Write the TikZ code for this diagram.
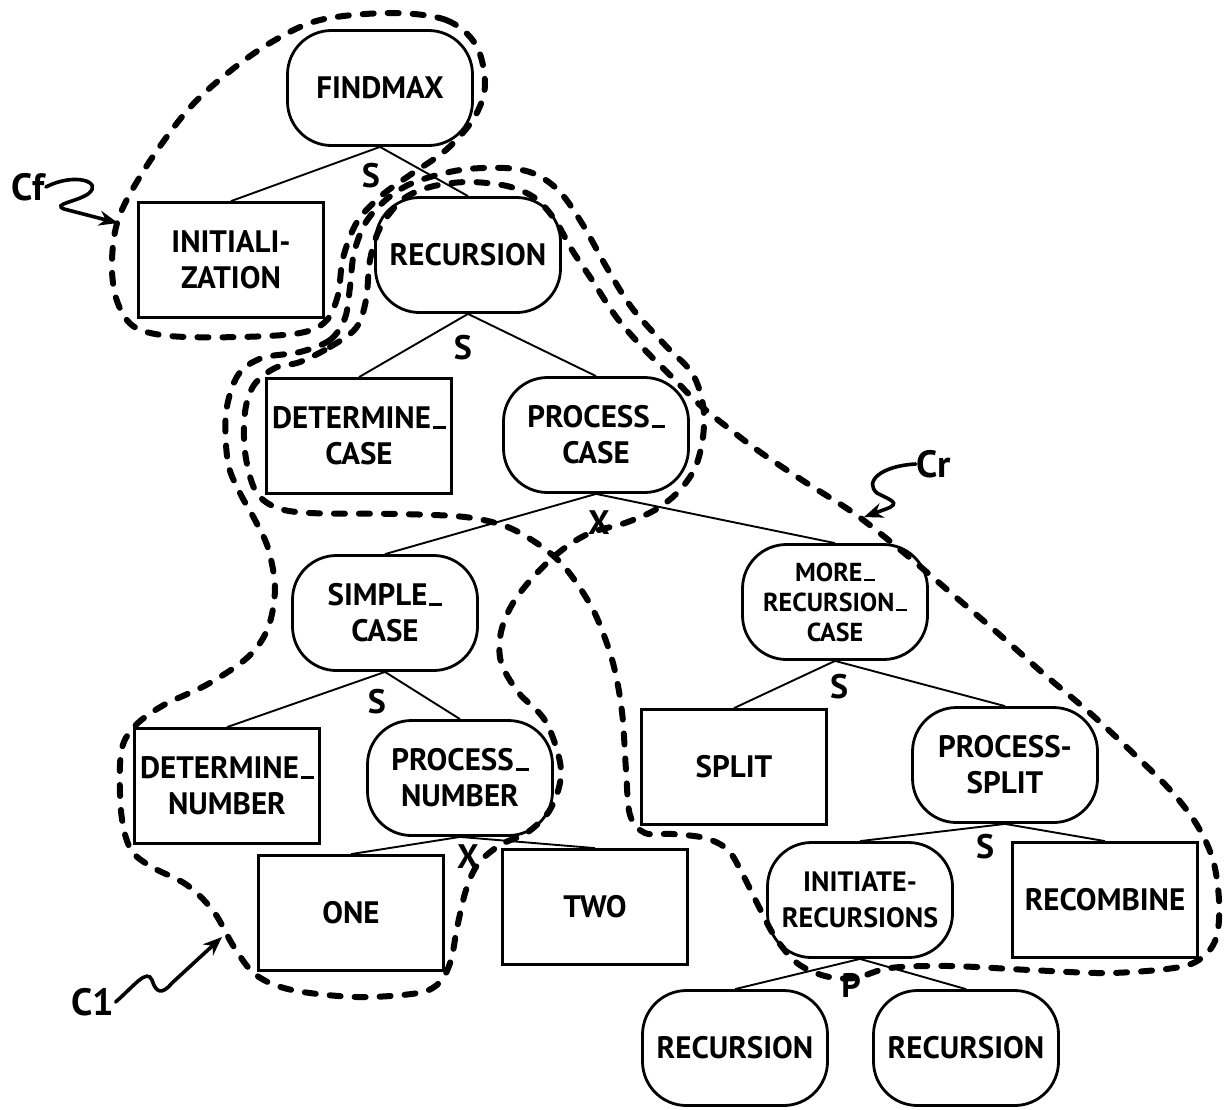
\documentclass[tikz,border=0pt]{standalone}
\usepackage{fontspec}
\setmainfont{PT Sans}
\usetikzlibrary{arrows.meta}
% short dash sitting on the baseline, used to join compound names
\newcommand\lowdash{\kern0.06em\rule{0.42em}{0.09em}}
\begin{document}
\begin{tikzpicture}[x=1pt,y=-1pt,
  box/.style={draw, line width=2.8pt, minimum width=185pt, minimum height=115pt,
              align=center, inner sep=0pt, font=\bfseries\fontsize{31}{36}\selectfont},
  pill/.style={box, rounded corners=44pt},
  edge/.style={line width=1.9pt},
  opmark/.style={font=\bfseries\fontsize{34}{34}\selectfont, inner sep=1pt},
  tag/.style={font=\bfseries\fontsize{38}{38}\selectfont, inner sep=1pt},
  fence/.style={line width=6pt, dash pattern=on 11pt off 14pt, line cap=round},
  pointer/.style={line width=3.6pt, line cap=round, -{Stealth[length=19pt,width=15pt]}}]
\useasboundingbox (0,0) rectangle (1225,1109);

% ---------- cluster boundaries ----------
% Cf : FINDMAX with its initialization
\draw[fence] plot[smooth cycle, tension=0.55] coordinates {
  (391,13) (446,20) (476,45) (485,85) (474,118) (446,150) (410,175) (381,196)
  (357,222) (343,258) (338,295) (326,321) (300,333) (240,337) (170,336)
  (133,326) (116,298) (112,260) (119,217) (146,167) (186,112) (224,76)
  (270,43) (320,20)};

% C1 : the simple case
\draw[fence] plot[smooth cycle, tension=0.55] coordinates {
  (300,352) (330,340) (345,318) (350,287) (354,253) (366,222) (388,198)
  (415,182) (460,170) (505,168) (535,174) (560,192) (583,225) (607,268)
  (632,308) (665,345) (692,373) (703,405) (703,437) (695,468) (678,492)
  (655,510) (625,523) (590,533) (562,550) (535,575) (513,603) (501,632)
  (501,662) (518,692) (546,722) (561,770) (551,808) (528,832) (500,845)
  (478,864) (466,890) (457,928) (451,960) (440,982) (418,993) (357,997)
  (292,990) (256,975) (234,947) (214,912) (187,885) (150,866) (130,848)
  (121,811) (121,753) (134,727) (162,706) (208,684) (248,657) (268,628)
  (275,588) (268,548) (255,520) (240,493) (228,463) (226,413) (238,375)
  (262,358)};

% Cr : the recursive case
\draw[fence] plot[smooth cycle, tension=0.55] coordinates {
  (300,362) (330,347) (356,328) (366,300) (370,260) (380,228) (402,200)
  (430,187) (467,182) (507,186) (535,198) (555,220) (572,250) (592,280)
  (617,318) (645,350) (672,377) (700,405) (727,427) (760,452) (805,482)
  (855,514) (903,552) (951,593) (1000,635) (1045,675) (1090,713) (1135,755)
  (1172,792) (1197,825) (1213,860) (1219,900) (1217,935) (1205,955)
  (1180,967) (1110,973) (1030,970) (950,966) (890,968) (855,978) (825,976)
  (797,963) (775,937) (758,905) (743,875) (728,850) (705,838) (672,834)
  (645,833) (630,815) (626,770) (622,712) (613,663) (597,618) (580,588)
  (560,562) (535,542) (505,526) (465,517) (400,514) (310,513) (275,507)
  (255,490) (245,452) (245,412) (254,385) (275,368)};

% ---------- tree nodes ----------
\node[pill] (findmax)   at (380,88)   {FINDMAX};
\node[box]  (init)      at (231,260)  {INITIALI-\\ZATION};
\node[pill] (rec)       at (468,255)  {RECURSION};
\node[box]  (detcase)   at (359,436)  {DETERMINE\lowdash\\CASE};
\node[pill] (proccase)  at (596,435)  {PROCESS\lowdash\\CASE};
\node[pill] (simple)    at (385,613)  {SIMPLE\lowdash\\CASE};
\node[pill, font=\bfseries\fontsize{26}{30}\selectfont]
            (more)      at (835,602)  {MORE\lowdash\\RECURSION\lowdash\\CASE};
\node[box]  (detnum)    at (227,786)  {DETERMINE\lowdash\\NUMBER};
\node[pill] (procnum)   at (460,778)  {PROCESS\lowdash\\NUMBER};
\node[box]  (split)     at (734,767)  {SPLIT};
\node[pill] (procsplit) at (1005,765) {PROCESS-\\SPLIT};
\node[box]  (one)       at (351,913)  {ONE};
\node[box]  (two)       at (595,907)  {TWO};
\node[pill, font=\bfseries\fontsize{28}{36}\selectfont]
            (initiate)  at (860,900)  {INITIATE-\\RECURSIONS};
\node[box]  (recombine) at (1105,900) {RECOMBINE};
\node[pill] (recl)      at (735,1048) {RECURSION};
\node[pill] (recr)      at (966,1048) {RECURSION};

% ---------- tree edges ----------
\draw[edge] (findmax.south) -- (init.north);
\draw[edge] (findmax.south) -- (rec.north);
\draw[edge] (rec.south) -- (detcase.north);
\draw[edge] (rec.south) -- (proccase.north);
\draw[edge] (proccase.south) -- (simple.north);
\draw[edge] (proccase.south) -- (more.north);
\draw[edge] (simple.south) -- (detnum.north);
\draw[edge] (simple.south) -- (procnum.north);
\draw[edge] (procnum.south) -- (one.north);
\draw[edge] (procnum.south) -- (two.north);
\draw[edge] (more.south) -- (split.north);
\draw[edge] (more.south) -- (procsplit.north);
\draw[edge] (procsplit.south) -- (initiate.north);
\draw[edge] (procsplit.south) -- (recombine.north);
\draw[edge] (initiate.south) -- (recl.north);
\draw[edge] (initiate.south) -- (recr.north);

% ---------- composition operators ----------
\node[opmark] (op1) at (371,176) {S};
\node[opmark] (op2) at (463,348) {S};
\node[opmark] (op3) at (599,523) {X};
\node[opmark] (op4) at (377,702) {S};
\node[opmark] (op5) at (468,857) {X};
\node[opmark] (op6) at (839,687) {S};
\node[opmark] (op7) at (985,847) {S};
\node[opmark] (op8) at (851,985) {P};

% ---------- cluster names ----------
\node[tag] (cf) at (28,187) {Cf};
\coordinate (cfhit) at (118,223);
\draw[pointer] (cf.east) .. controls (75,172) and (104,182) .. (88,194)
               .. controls (76,202) and (52,204) .. (64,209) -- (cfhit);

\node[tag] (cr) at (934,464) {Cr};
\coordinate (crhit) at (864,517);
\draw[pointer] (cr.west) .. controls (880,466) and (864,482) .. (877,493)
               .. controls (890,500) and (902,503) .. (886,509) -- (crhit);

\node[tag] (c1) at (93,1002) {C1};
\coordinate (c1hit) at (222,937);
\draw[pointer] (c1.east) .. controls (134,986) and (147,968) .. (152,980)
               .. controls (156,993) and (162,995) .. (172,983) -- (c1hit);
\end{tikzpicture}
\end{document}
